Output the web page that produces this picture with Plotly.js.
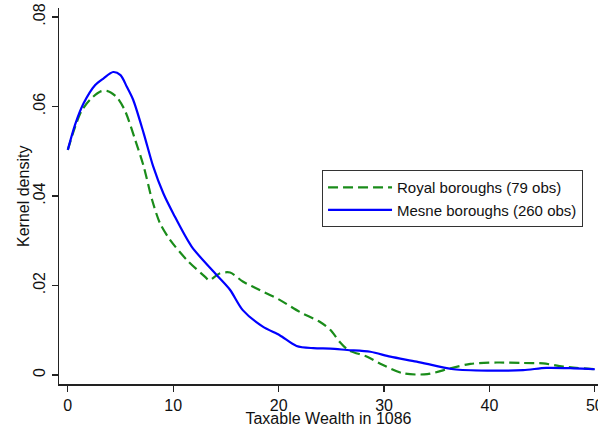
<!DOCTYPE html>
<html>
<head>
<meta charset="utf-8">
<script src="https://cdn.plot.ly/plotly-3.0.1.min.js"></script>
<style>html,body{margin:0;padding:0;background:#fff;}#chart{width:598px;height:427px;}</style>
</head>
<body>
<div id="chart"></div>
<script>
const royalX = [0, 0.7, 1.3, 2.1, 3.05, 3.7, 4.6, 5.4, 6.4, 7.2, 8.0, 8.75, 9.7, 11.3, 13.0, 13.4, 14.4, 15.4, 16.6, 18.2, 20.1, 22.0, 23.9, 24.9, 25.8, 26.6, 28.4, 29.6, 31.8, 34.1, 36.3, 38.2, 40.7, 43.2, 45.1, 47, 50];
const royalY = [.0503, .0555, .0590, .0615, .0633, .0635, .0622, .0592, .0525, .0466, .0391, .0339, .0302, .0257, .0220, .0212, .0227, .0229, .0209, .0190, .0168, .0141, .0119, .0101, .0074, .0056, .0041, .0026, .0004, .0002, .0015, .0025, .0028, .0027, .0026, .0019, .0013];
const mesneX = [0, 0.7, 1.5, 2.6, 3.4, 4.3, 5.0, 5.6, 6.2, 7.2, 8.1, 9.06, 10.0, 11.75, 14.1, 15.4, 16.6, 18.5, 20.1, 21.7, 23.3, 24.9, 26.5, 28.7, 30.6, 33.1, 36.6, 40.1, 43.2, 45.4, 48, 50];
const mesneY = [.0503, .0560, .0607, .0648, .0663, .0677, .0670, .0644, .0615, .0540, .0466, .0406, .0361, .0287, .0224, .0190, .0145, .0108, .0089, .0065, .0060, .0059, .0056, .0052, .0041, .0030, .0013, .0010, .0011, .0016, .0015, .0013];
const yTickVals = [0, 0.02, 0.04, 0.06, 0.08];
const yTickText = ['0', '.02', '.04', '.06', '.08'];
const xTickVals = [0, 10, 20, 30, 40, 50];

const fam = '"Liberation Sans", Arial, sans-serif';
const tickFont = {family: fam, size: 16, color: '#111'};
const titleFont = {family: fam, size: 16, color: '#111'};
const legFont = {family: fam, size: 15, color: '#111'};

const traces = [
  {x: royalX, y: royalY, type: 'scatter', mode: 'lines', name: 'Royal boroughs (79 obs)',
   line: {color: '#1a8c1a', width: 2.2, dash: '10px,5px', shape: 'spline', smoothing: 0.8}},
  {x: mesneX, y: mesneY, type: 'scatter', mode: 'lines', name: 'Mesne boroughs (260 obs)',
   line: {color: '#0000ff', width: 2.2, shape: 'spline', smoothing: 0.8}}
];

const layout = {
  width: 598, height: 427,
  margin: {l: 59, r: 0, t: 8, b: 43},
  paper_bgcolor: '#fff', plot_bgcolor: '#fff',
  font: legFont,
  showlegend: true,
  legend: {x: 0.488, y: 0.569, xanchor: 'left', yanchor: 'top',
    bordercolor: '#333', borderwidth: 1, bgcolor: '#fff',
    font: legFont, itemwidth: 64, tracegroupgap: 0},
  xaxis: {range: [-0.835, 50.3], showgrid: false, zeroline: false,
    showline: true, linecolor: '#222', linewidth: 1.5,
    ticks: 'outside', ticklen: 6, tickcolor: '#222', tickwidth: 1.2,
    tickvals: xTickVals, tickfont: tickFont, ticklabeloverflow: 'allow',
    title: {text: 'Taxable Wealth in 1086', font: titleFont, standoff: 0}},
  yaxis: {range: [-0.002, 0.082], showgrid: false, zeroline: false,
    showline: true, linecolor: '#222', linewidth: 1.5,
    ticks: 'outside', ticklen: 6, tickcolor: '#222', tickwidth: 1.2,
    tickvals: yTickVals, ticktext: yTickText, tickangle: -90, tickfont: tickFont,
    ticklabeloverflow: 'allow'},
  annotations: [{
    text: 'Kernel density', font: titleFont, textangle: -90,
    xref: 'paper', yref: 'paper', x: -0.0668, y: 0.5,
    xanchor: 'center', yanchor: 'middle', showarrow: false
  }]
};

Plotly.newPlot('chart', traces, layout, {displayModeBar: false, staticPlot: true});
</script>
</body>
</html>
